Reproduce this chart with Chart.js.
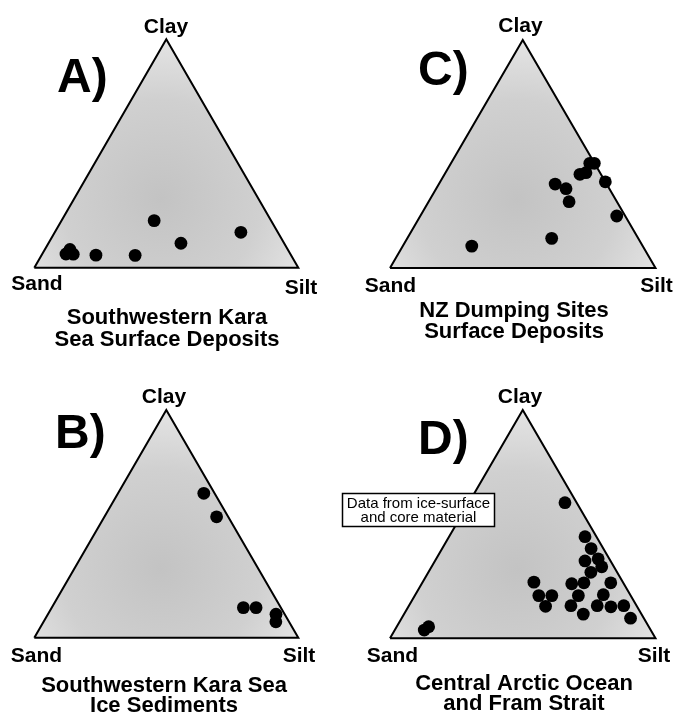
<!DOCTYPE html>
<html>
<head>
<meta charset="utf-8">
<title>Ternary grain-size diagrams</title>
<script src="https://cdn.jsdelivr.net/npm/chart.js@4.4.1/dist/chart.umd.min.js"></script>
<style>
  html, body { margin: 0; padding: 0; background: #fff; }
  #page { position: relative; width: 675px; height: 715px; overflow: hidden; }
  canvas { position: absolute; }
</style>
</head>
<body>
<div id="page">
  <canvas id="chartA" width="337" height="357" style="left:0px;top:0px"></canvas>
  <canvas id="chartC" width="338" height="357" style="left:337px;top:0px"></canvas>
  <canvas id="chartB" width="337" height="358" style="left:0px;top:357px"></canvas>
  <canvas id="chartD" width="338" height="358" style="left:337px;top:357px"></canvas>
</div>
<script>
// corner labels of every triangle
const vertexLabels = ['Sand', 'Silt', 'Clay'];

// A) Southwestern Kara Sea surface deposits  (percent sand / silt / clay)
const titleA = ['Southwestern Kara', 'Sea Surface Deposits'];
const sandA = [82.5, 85.0, 82.3, 73.9, 59.1, 44.3, 39.1, 14.0];
const siltA = [ 9.5,  9.0, 11.8, 20.6, 35.5, 35.1, 50.2, 70.5];
const clayA = [ 8.0,  6.0,  5.9,  5.5,  5.4, 20.6, 10.7, 15.5];

// B) Southwestern Kara Sea ice sediments
const titleB = ['Southwestern Kara Sea', 'Ice Sediments'];
const sandB = [ 4.1,  4.4, 14.2,  9.4,  3.3,  5.0];
const siltB = [32.5, 42.5, 72.6, 77.4, 86.4, 88.0];
const clayB = [63.4, 53.1, 13.2, 13.2, 10.3,  7.0];

// C) NZ dumping sites surface deposits
const titleC = ['NZ Dumping Sites', 'Surface Deposits'];
const sandC = [64.4, 32.6, 19.4, 16.3, 18.0,  7.9,  5.3,  1.8,  0.1,  0.0,  3.2];
const siltC = [26.0, 54.4, 43.8, 48.9, 52.9, 51.0, 52.9, 52.3, 54.0, 62.2, 74.0];
const clayC = [ 9.6, 13.0, 36.8, 34.8, 29.1, 41.1, 41.8, 45.9, 45.9, 37.8, 22.8];

// D) Central Arctic Ocean and Fram Strait
const titleD = ['Central Arctic Ocean', 'and Fram Strait'];
const noteD = ['Data from ice-surface', 'and core material'];
const sandD = [ 4.4,  4.3,  4.6,  9.6,  4.2,  4.6,  9.9, 33.5, 34.6, 29.7, 34.4, 19.6,
               14.8,  4.7, 19.7, 10.1, 24.7, 21.9, 14.8,  9.9,  4.8,  5.0, 85.3, 82.9];
const siltD = [36.2, 51.2, 56.1, 56.5, 61.0, 64.1, 61.2, 41.9, 46.7, 51.6, 51.6, 56.5,
               60.9, 71.0, 61.6, 70.8, 61.0, 67.5, 70.9, 76.3, 80.9, 86.2, 11.1, 12.0];
const clayD = [59.4, 44.5, 39.3, 33.9, 34.8, 31.3, 28.9, 24.6, 18.7, 18.7, 14.0, 23.9,
               24.3, 24.3, 18.7, 19.1, 14.3, 10.6, 14.3, 13.8, 14.3,  8.8,  3.6,  5.1];

const H = Math.sqrt(3) / 2;
const FONT = '"Liberation Sans", Arial, Helvetica, sans-serif';

// page-pixel layout of each panel
const panels = [
  { id: 'chartA', left: 0, top: 0, w: 337, h: 357,
    tri: { l: 34.3, r: 298.3, t: 39.3, b: 267.7 },
    clay: [166, 33], sand: [37, 290], silt: [301, 294],
    letter: [57, 92], titleX: 167, titleY: [324, 346],
    letterText: 'A)', title: titleA, sand_: sandA, silt_: siltA, clay_: clayA },
  { id: 'chartC', left: 337, top: 0, w: 338, h: 357,
    tri: { l: 390, r: 655.5, t: 40, b: 268 },
    clay: [520.5, 32], sand: [390.5, 292], silt: [656.5, 292],
    letter: [418, 85], titleX: 514, titleY: [317, 338],
    letterText: 'C)', title: titleC, sand_: sandC, silt_: siltC, clay_: clayC },
  { id: 'chartB', left: 0, top: 357, w: 337, h: 358,
    tri: { l: 34.3, r: 298.3, t: 410, b: 637.7 },
    clay: [164, 403], sand: [36.5, 661.5], silt: [299, 661.5],
    letter: [55, 448], titleX: 164, titleY: [692, 712],
    letterText: 'B)', title: titleB, sand_: sandB, silt_: siltB, clay_: clayB },
  { id: 'chartD', left: 337, top: 357, w: 338, h: 358,
    tri: { l: 390, r: 655.5, t: 410, b: 638.3 },
    clay: [520, 403], sand: [392.5, 661.5], silt: [654, 661.5],
    letter: [418, 454], titleX: 524, titleY: [690, 710],
    note: { x: 342.5, y: 493.5, w: 152, h: 33, lines: noteD, cx: 418.5, base: [507.5, 521.5] },
    letterText: 'D)', title: titleD, sand_: sandD, silt_: siltD, clay_: clayD }
];

function shading(context) {
  const chart = context.chart;
  if (!chart.chartArea) return '#cfcfcf';
  const cx = chart.scales.x.getPixelForValue(48);
  const cy = chart.scales.y.getPixelForValue(100 * H / 3.3);
  const g = chart.ctx.createRadialGradient(cx, cy, 0, cx, cy, 165);
  g.addColorStop(0, '#c3c3c3');
  g.addColorStop(0.6, '#d0d0d0');
  g.addColorStop(1, '#e6e6e6');
  return g;
}

function makePanel(p) {
  const pts = p.sand_.map((s, i) => ({ x: p.silt_[i] + p.clay_[i] / 2, y: p.clay_[i] * H }));
  const outline = [{ x: 0, y: 0 }, { x: 100, y: 0 }, { x: 50, y: 100 * H }, { x: 0, y: 0 }];

  const textPlugin = {
    id: 'panelText',
    afterDraw(chart) {
      const ctx = chart.ctx;
      const lx = v => v - p.left, ly = v => v - p.top;
      ctx.save();
      ctx.fillStyle = '#000';
      ctx.textBaseline = 'alphabetic';
      ctx.textAlign = 'center';
      ctx.font = 'bold 21px ' + FONT;
      ctx.fillText(vertexLabels[2], lx(p.clay[0]), ly(p.clay[1]));
      ctx.fillText(vertexLabels[0], lx(p.sand[0]), ly(p.sand[1]));
      ctx.fillText(vertexLabels[1], lx(p.silt[0]), ly(p.silt[1]));
      ctx.font = 'bold 22px ' + FONT;
      p.title.forEach((t, i) => ctx.fillText(t, lx(p.titleX), ly(p.titleY[i])));
      ctx.textAlign = 'left';
      ctx.font = 'bold 48px ' + FONT;
      ctx.fillText(p.letterText, lx(p.letter[0]), ly(p.letter[1]));
      if (p.note) {
        const n = p.note;
        ctx.fillStyle = '#fff';
        ctx.fillRect(lx(n.x), ly(n.y), n.w, n.h);
        ctx.strokeStyle = '#000';
        ctx.lineWidth = 1.5;
        ctx.strokeRect(lx(n.x), ly(n.y), n.w, n.h);
        ctx.fillStyle = '#000';
        ctx.textAlign = 'center';
        ctx.font = '15px ' + FONT;
        n.lines.forEach((t, i) => ctx.fillText(t, lx(n.cx), ly(n.base[i])));
      }
      ctx.restore();
    }
  };

  new Chart(document.getElementById(p.id), {
    type: 'scatter',
    data: {
      datasets: [
        {
          data: pts,
          backgroundColor: '#000',
          borderWidth: 0,
          pointRadius: 6.4,
          clip: false
        },
        {
          data: outline,
          showLine: true,
          fill: 'shape',
          backgroundColor: shading,
          borderColor: '#000',
          borderWidth: 2,
          pointRadius: 0,
          tension: 0,
          clip: false
        }
      ]
    },
    options: {
      responsive: false,
      animation: false,
      events: [],
      layout: {
        padding: {
          left: p.tri.l - p.left,
          right: p.left + p.w - p.tri.r,
          top: p.tri.t - p.top,
          bottom: p.top + p.h - p.tri.b
        }
      },
      scales: {
        x: { type: 'linear', min: 0, max: 100, display: false },
        y: { type: 'linear', min: 0, max: 100 * H, display: false }
      },
      plugins: {
        legend: { display: false },
        tooltip: { enabled: false },
        title: { display: false }
      }
    },
    plugins: [textPlugin]
  });
}

panels.forEach(makePanel);
</script>
</body>
</html>
